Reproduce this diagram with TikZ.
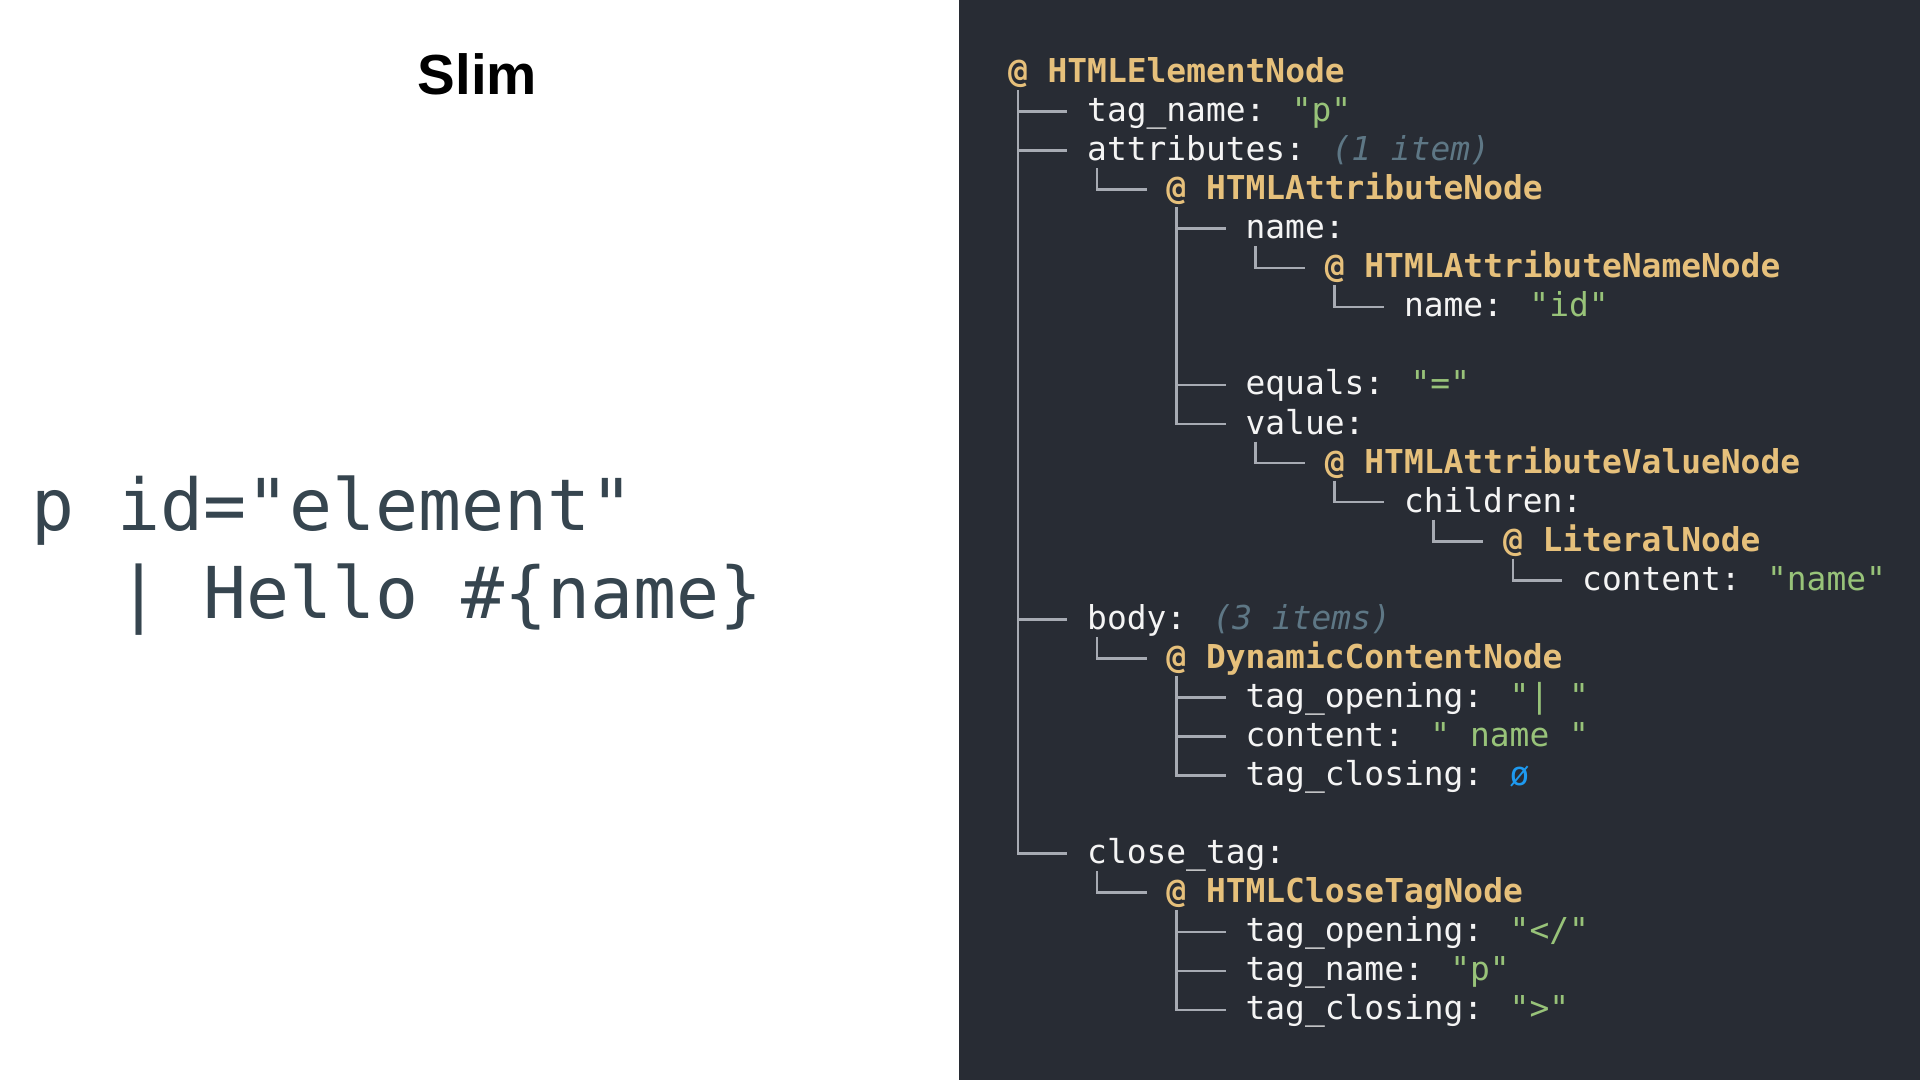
\documentclass[tikz,border=0pt]{standalone}
\usepackage{fontspec}
\usetikzlibrary{calc}
\newfontfamily\monof{DejaVu Sans Mono}
\newfontfamily\titlef{Liberation Sans}
\definecolor{panel}{HTML}{282C34}
\definecolor{keyc}{HTML}{F4F4F4}
\definecolor{goldc}{HTML}{E6C07B}
\definecolor{strc}{HTML}{98C379}
\definecolor{cntc}{HTML}{5E7785}
\definecolor{nilc}{HTML}{1E9AF0}
\definecolor{linec}{HTML}{A7ABB3}
\definecolor{codec}{HTML}{36454F}
\tikzset{
  row/.style={anchor=west, inner sep=0pt, outer sep=0pt, text height=25pt, text depth=5pt,
    font=\monof\fontsize{32.9}{36}\selectfont, text=keyc},
  treeline/.style={draw=linec, line width=2.6pt},
  codeline/.style={anchor=base west, inner sep=0pt, font=\monof\fontsize{71.5}{80}\selectfont, text=codec},
  titlestyle/.style={anchor=base, inner sep=0pt, font=\titlef\bfseries\fontsize{56.5}{60}\selectfont, text=black}
}
\newcommand\gnode[1]{\textcolor{goldc}{\bfseries #1}}
\newcommand\strv[1]{\textcolor{strc}{#1}}
\newcommand\cnt[1]{\textcolor{cntc}{\itshape #1}}
\newcommand\branch[2]{\draw[treeline] let \p1=(#2.west), \p2=(#1.west) in (\x1-69.3pt,\y2-17.5pt) |- (\x1-19.8pt,\y1);}
\begin{document}
\begin{tikzpicture}[x=1pt,y=-1pt]
\useasboundingbox (0,0) rectangle (1920,1080);
\fill[white] (0,0) rectangle (1920,1080);
\fill[panel] (959,0) rectangle (1920,1080);

% left side
\node[titlestyle] (title) at (477.5,94) {Slim};
\node[codeline] (code1) at (31,530) {p id="element"};
\node[codeline] (code2) at (117.1,618.4) {| Hello \#\{name\}};

% right side tree
\node[row] (r0) at (1008,72.5) {\gnode{@ HTMLElementNode}};
\node[row] (r1) at (1087.2,111.56) {tag\_name: \strv{"p"}};
\node[row] (r2) at (1087.2,150.62) {attributes: \cnt{(1 item)}};
\node[row] (r3) at (1166.4,189.68) {\gnode{@ HTMLAttributeNode}};
\node[row] (r4) at (1245.6,228.74) {name:};
\node[row] (r5) at (1324.8,267.8) {\gnode{@ HTMLAttributeNameNode}};
\node[row] (r6) at (1404,306.86) {name: \strv{"id"}};
\node[row] (r8) at (1245.6,384.98) {equals: \strv{"="}};
\node[row] (r9) at (1245.6,424.04) {value:};
\node[row] (r10) at (1324.8,463.1) {\gnode{@ HTMLAttributeValueNode}};
\node[row] (r11) at (1404,502.16) {children:};
\node[row] (r12) at (1503,541.22) {\gnode{@ LiteralNode}};
\node[row] (r13) at (1582.2,580.28) {content: \strv{"name"}};
\node[row] (r14) at (1087.2,619.34) {body: \cnt{(3 items)}};
\node[row] (r15) at (1166.4,658.4) {\gnode{@ DynamicContentNode}};
\node[row] (r16) at (1245.6,697.46) {tag\_opening: \strv{"|\ "}};
\node[row] (r17) at (1245.6,736.52) {content: \strv{"\ name\ "}};
\node[row] (r18) at (1245.6,775.58) {tag\_closing: \textcolor{nilc}{ø}};
\node[row] (r20) at (1087.2,853.7) {close\_tag:};
\node[row] (r21) at (1166.4,892.76) {\gnode{@ HTMLCloseTagNode}};
\node[row] (r22) at (1245.6,931.82) {tag\_opening: \strv{"</"}};
\node[row] (r23) at (1245.6,970.88) {tag\_name: \strv{"p"}};
\node[row] (r24) at (1245.6,1009.94) {tag\_closing: \strv{">"}};

\branch{r0}{r1}
\branch{r0}{r2}
\branch{r0}{r14}
\branch{r0}{r20}
\branch{r2}{r3}
\branch{r3}{r4}
\branch{r3}{r8}
\branch{r3}{r9}
\branch{r4}{r5}
\branch{r5}{r6}
\branch{r9}{r10}
\branch{r10}{r11}
\branch{r11}{r12}
\branch{r12}{r13}
\branch{r14}{r15}
\branch{r15}{r16}
\branch{r15}{r17}
\branch{r15}{r18}
\branch{r20}{r21}
\branch{r21}{r22}
\branch{r21}{r23}
\branch{r21}{r24}
\end{tikzpicture}
\end{document}
